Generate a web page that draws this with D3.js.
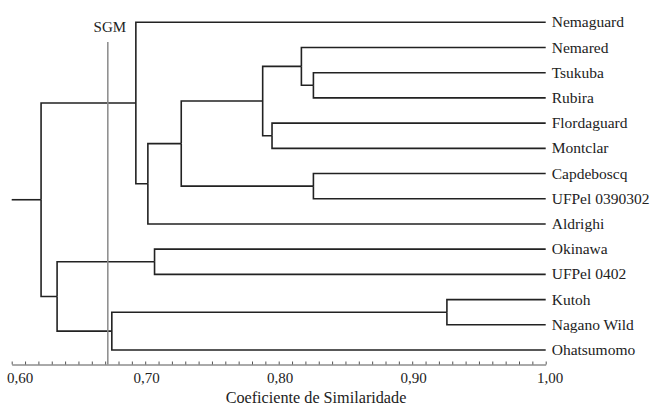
<!DOCTYPE html>
<html>
<head>
<meta charset="utf-8">
<script src="https://cdn.jsdelivr.net/npm/d3@7"></script>
<style>
  body { margin: 0; background: #fff; }
  svg text { font-family: "Liberation Serif", "DejaVu Serif", serif; }
</style>
</head>
<body>
<svg id="chart" width="651" height="409"></svg>
<script>
// leaf order, top to bottom
const leaves = ["Nemaguard", "Nemared", "Tsukuba", "Rubira", "Flordaguard", "Montclar",
  "Capdeboscq", "UFPel 0390302", "Aldrighi", "Okinawa", "UFPel 0402", "Kutoh",
  "Nagano Wild", "Ohatsumomo"];

// merges: [child a, child b, coefficient]; ids 0-13 are leaves, 14+ are merges in order
const merges = [
  [2, 3, 0.826],    // 14
  [1, 14, 0.817],   // 15
  [4, 5, 0.795],    // 16
  [15, 16, 0.788],  // 17
  [6, 7, 0.826],    // 18
  [17, 18, 0.727],  // 19
  [19, 8, 0.702],   // 20
  [0, 20, 0.693],   // 21
  [9, 10, 0.707],   // 22
  [11, 12, 0.926],  // 23
  [23, 13, 0.675],  // 24
  [22, 24, 0.634],  // 25
  [21, 25, 0.622]   // 26 (root)
];

const sgmValue = 0.672;
const axisTicks = [0.60, 0.70, 0.80, 0.90, 1.00];
const axisMin = 0.60, axisMax = 1.00;
const axisTitle = "Coeficiente de Similaridade";

const svg = d3.select("#chart");
const x = d3.scaleLinear().domain([axisMin, axisMax]).range([11.7, 545.7]);
const y = d3.scalePoint().domain(leaves).range([22.3, 350]);

// node positions
const pos = leaves.map(name => ({ x: x(1), y: y(name) }));
merges.forEach(([a, b, v]) => {
  pos.push({ x: x(v), y: (pos[a].y + pos[b].y) / 2 });
});

const g = svg.append("g")
  .attr("fill", "none")
  .attr("stroke", "#222")
  .attr("stroke-width", 1.6);

// elbow links
merges.forEach(([a, b, v], i) => {
  const n = pos[leaves.length + i];
  [a, b].forEach(c => {
    g.append("path")
      .attr("d", `M${pos[c].x},${pos[c].y}H${n.x}V${n.y}`);
  });
});

// root stub
const root = pos[pos.length - 1];
g.append("path").attr("d", `M${x(axisMin)},${root.y}H${root.x}`);

// leaf labels
svg.append("g").selectAll("text")
  .data(leaves)
  .join("text")
  .attr("x", x(1) + 6)
  .attr("y", d => y(d))
  .attr("dy", "0.33em")
  .attr("font-size", 15.5)
  .attr("fill", "#222")
  .text(d => d);

// axis
const locale = d3.formatLocale({ decimal: ",", thousands: ".", grouping: [3], currency: ["", ""] });
const fmt = locale.format(".2f");
const axisY = 364.5;
const axis = d3.axisBottom(x)
  .tickValues(d3.range(0, 41).map(i => axisMin + i * 0.01))
  .tickSizeInner(-3)
  .tickSizeOuter(0)
  .tickPadding(8)
  .tickFormat(d => axisTicks.some(t => Math.abs(t - d) < 1e-6) ? fmt(d) : "");

const ax = svg.append("g")
  .attr("transform", `translate(0,${axisY})`)
  .call(axis)
  .attr("font-family", null);
ax.select(".domain").attr("stroke", "#555").attr("stroke-width", 1);
ax.selectAll(".tick line").attr("stroke", "#555");
ax.selectAll(".tick text")
  .attr("font-size", 15)
  .attr("fill", "#222")
  .attr("dx", d => Math.abs(d - axisMin) < 1e-6 ? 8 : Math.abs(d - axisMax) < 1e-6 ? 4 : 1);

svg.append("text")
  .attr("x", 316)
  .attr("y", 403)
  .attr("text-anchor", "middle")
  .attr("font-size", 16.2)
  .attr("fill", "#222")
  .text(axisTitle);

// SGM reference line
svg.append("line")
  .attr("x1", x(sgmValue)).attr("x2", x(sgmValue))
  .attr("y1", 42).attr("y2", axisY)
  .attr("stroke", "#8a8a8a")
  .attr("stroke-width", 1.5);

svg.append("text")
  .attr("x", x(sgmValue) + 2)
  .attr("y", 32)
  .attr("text-anchor", "middle")
  .attr("font-size", 15)
  .attr("fill", "#222")
  .text("SGM");
</script>
</body>
</html>
